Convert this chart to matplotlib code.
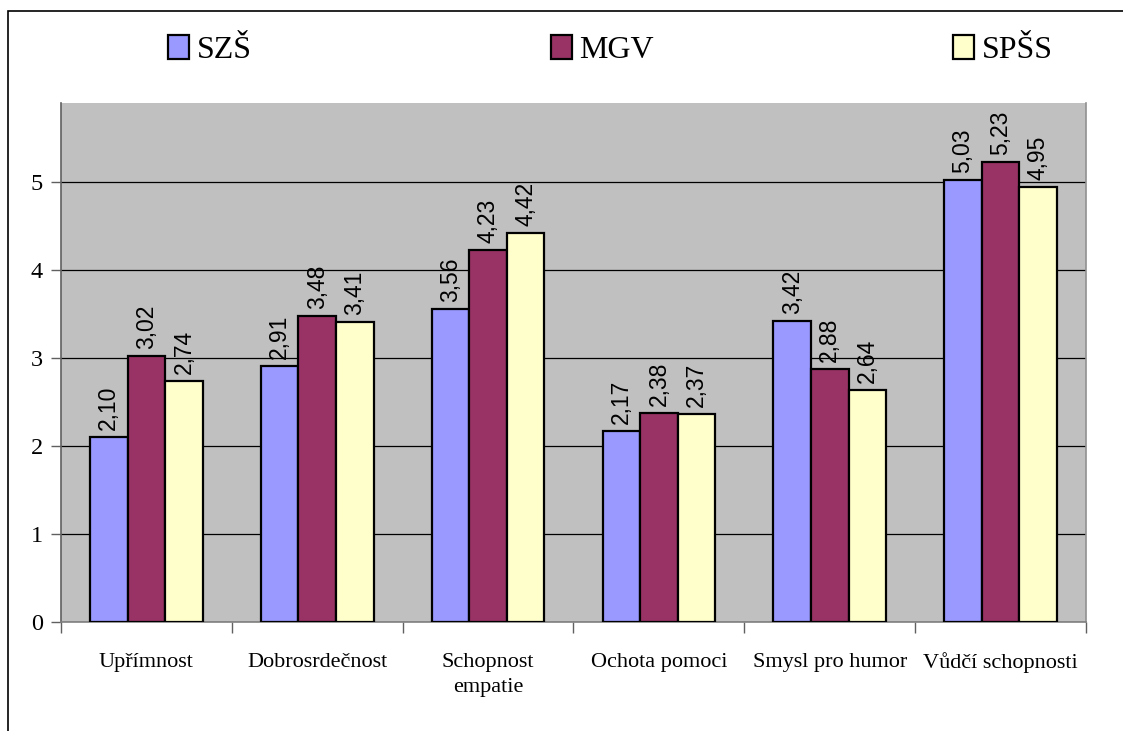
import matplotlib
matplotlib.use("Agg")

import matplotlib.pyplot as plt
import numpy as np
from matplotlib.patches import Rectangle

# ── data ─────────────────────────────────────────────────────────────────────
CATEGORIES = ["Upřímnost", "Dobrosrdečnost", "Schopnost\nempatie",
              "Ochota pomoci", "Smysl pro humor", "Vůdčí schopnosti"]
SERIES = ["SZŠ", "MGV", "SPŠS"]
SZS  = [2.10, 2.91, 3.56, 2.17, 3.42, 5.03]
MGV  = [3.02, 3.48, 4.23, 2.38, 2.88, 5.23]
SPSS = [2.74, 3.41, 4.42, 2.37, 2.64, 4.95]
YTICKS = [0, 1, 2, 3, 4, 5]

COLORS = ["#9999FF", "#993366", "#FFFFCC"]
SERIF = ["Liberation Serif", "DejaVu Serif"]
SANS = ["Liberation Sans", "DejaVu Sans"]

# ── figure ───────────────────────────────────────────────────────────────────
fig = plt.figure(figsize=(11.23, 7.31), dpi=100)
ax = fig.add_axes([61 / 1123, 1 - 622 / 731, (1086 - 61) / 1123, (622 - 103) / 731])
ax.set_facecolor("#C0C0C0")

# outer chart frame (runs off the right and bottom edges)
fig.add_artist(Rectangle((8 / 1123, -0.2), 1.2, 1.2 - 11 / 731,
                         transform=fig.transFigure, fill=False,
                         ec="black", lw=1.2, zorder=0))

x = np.arange(len(CATEGORIES))
w = 0.22
handles = []
for i, (vals, col, name) in enumerate(zip([SZS, MGV, SPSS], COLORS, SERIES)):
    pos = x + (i - 1) * w
    bars = ax.bar(pos, vals, w, color=col, edgecolor="black", lw=1.6,
                  zorder=3, label=name)
    handles.append(bars)
    for p, v in zip(pos, vals):
        ax.annotate(f"{v:.2f}".replace(".", ","), (p, v),
                    xytext=(0, 5), textcoords="offset points",
                    rotation=90, ha="center", va="bottom",
                    fontsize=16.5, family=SANS, color="black", zorder=4)

ax.set_xlim(-0.5, len(CATEGORIES) - 0.5)
ax.set_ylim(0, 5.9)
ax.set_yticks(YTICKS)
ax.yaxis.grid(True, color="black", lw=0.9, zorder=1)
ax.set_axisbelow(True)

ax.set_xticks(x)
ax.set_xticklabels(CATEGORIES, family=SERIF, fontsize=16, linespacing=1.45)
ax.set_xticks(np.arange(len(CATEGORIES) + 1) - 0.5, minor=True)
ax.tick_params(axis="x", which="major", length=0, pad=22)
ax.tick_params(axis="x", which="minor", length=8, width=1, color="#606060",
               direction="out")
ax.tick_params(axis="y", length=7, width=1, color="#606060", direction="out",
               labelsize=17.5, pad=6)
for lab in ax.get_yticklabels():
    lab.set_family(SERIF)

ax.spines["top"].set_visible(False)
ax.spines["left"].set_color("#606060")
ax.spines["bottom"].set_color("#808080")
ax.spines["right"].set_color("#909090")
for s in ax.spines.values():
    s.set_linewidth(1.2)

fig.legend(handles=handles, labels=SERIES, loc="lower left",
           bbox_to_anchor=(155 / 1123, 1 - 78 / 731, (1066 - 155) / 1123, 0.05),
           mode="expand", ncol=3, frameon=False,
           prop={"family": SERIF, "size": 23},
           handlelength=0.65, handleheight=0.75, handletextpad=0.25,
           borderaxespad=0)

fig.savefig("out.png", dpi=100)
